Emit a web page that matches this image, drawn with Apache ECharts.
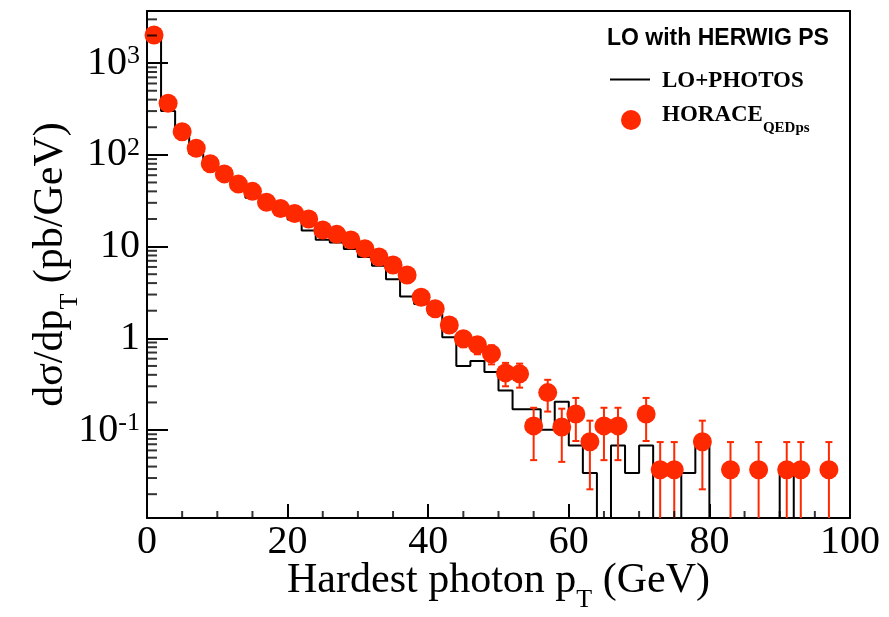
<!DOCTYPE html>
<html>
<head>
<meta charset="utf-8">
<script src="https://cdn.jsdelivr.net/npm/echarts@6/dist/echarts.min.js"></script>
<style>
  html, body { margin: 0; padding: 0; background: #fff; }
  #wrap { position: relative; width: 889px; height: 617px; }
  #chart, #ticks { position: absolute; left: 0; top: 0; width: 889px; height: 617px; }
  #ticks { pointer-events: none; }
</style>
</head>
<body>
<div id="wrap">
  <div id="chart"></div>
  <div id="ticks"></div>
</div>
<script>
// ---- data ----
const histEdges = [0,2,4,6,8,10,12,14,16,18,20,22,24,26,28,30,32,34,36,38,40,42,44,46,48,50,
  52,54,56,58,60,62,64,66,68,70,72,74,76,78,80,82,84,86,88,90,92,94,96,98,100];
const histValues = [1990, 300, 163, 103, 74.5, 57, 43, 34, 29.2, 23.8,
  19.8, 15.0, 11.9, 11.1, 9.4, 7.7, 6.2, 4.4, 2.85, 2.37,
  1.85, 1.03, 0.50, 0.565, 0.43, 0.27, 0.169, 0.169, 0.101, 0.203,
  0.068, 0.034, 0, 0.068, 0.034, 0.068, 0, 0, 0.034, 0.068,
  0, 0, 0, 0, 0, 0.034, 0, 0, 0, 0];

const pointX = [1,3,5,7,9,11,13,15,17,19,21,23,25,27,29,31,33,35,37,39,
  41,43,45,47,49,51,53,55,57,59,61,63,65,67,71,73,75,79,83,87,91,93,97];
const pointY = [2030, 366, 179, 118, 80, 62, 48, 40, 30.5, 26,
  23, 20, 15.2, 13.6, 11.8, 9.5, 7.7, 6.3, 4.9, 2.8,
  2.1, 1.4, 0.99, 0.85, 0.68, 0.42, 0.41, 0.111, 0.256, 0.108,
  0.15, 0.0746, 0.111, 0.111, 0.15, 0.037, 0.037, 0.0746, 0.037, 0.037, 0.037, 0.037, 0.037];
const pointErr = [8.7, 3.7, 2.6, 2.1, 1.7, 1.5, 1.3, 1.2, 1.06, 0.98,
  0.92, 0.86, 0.75, 0.71, 0.66, 0.59, 0.53, 0.48, 0.43, 0.32,
  0.28, 0.23, 0.19, 0.18, 0.16, 0.12, 0.12, 0.064, 0.097, 0.063,
  0.074, 0.052, 0.064, 0.064, 0.074, 0.037, 0.037, 0.052, 0.037, 0.037, 0.037, 0.037, 0.037];

const xTickValues = [0, 20, 40, 60, 80, 100];
const xTickLabels = ['0', '20', '40', '60', '80', '100'];
const xMinorTicks = [5, 10, 15, 25, 30, 35, 45, 50, 55, 65, 70, 75, 85, 90, 95];
const yTickValues = [0.1, 1, 10, 100, 1000];
const yTickLabels = ['10{sup|-1}', '1', '10', '10{sup|2}', '10{sup|3}'];
const yMinorTicks = [0.02,0.03,0.04,0.05,0.06,0.07,0.08,0.09,
  0.2,0.3,0.4,0.5,0.6,0.7,0.8,0.9, 2,3,4,5,6,7,8,9,
  20,30,40,50,60,70,80,90, 200,300,400,500,600,700,800,900, 2000,3000];

const seriesHistName = 'LO+PHOTOS';
const seriesPtsName = 'HORACE';
const titleText = 'LO with HERWIG PS';

// ---- build ----
const SERIF = '"Liberation Serif", "Times New Roman", serif';
const SANS = '"Liberation Sans", Arial, sans-serif';
const RED = '#ff2900';
const Y_MIN = 0.011, Y_MAX = 3700;
const X_MIN = 0, X_MAX = 100;
const FLOOR = Y_MIN / 100; // empty bins are drawn below the visible range
const GRID = { left: 147, right: 39, top: 11, bottom: 99, outerBoundsMode: 'none' };

const histData = [];
for (let i = 0; i < histValues.length; i++) {
  const v = histValues[i] > 0 ? histValues[i] : FLOOR;
  histData.push([histEdges[i], v]);
}
histData.push([histEdges[histEdges.length - 1], histValues[histValues.length - 1] > 0 ? histValues[histValues.length - 1] : FLOOR]);

const ptsData = pointX.map((x, i) => [x, pointY[i]]);
const errData = pointX.map((x, i) => [x, pointY[i], pointErr[i]]);

const frameLine = { show: true, onZero: false, lineStyle: { color: '#000', width: 2 } };

// ---- main chart ----
const chart = echarts.init(document.getElementById('chart'), null, { renderer: 'canvas' });
chart.setOption({
  animation: false,
  title: {
    text: titleText,
    left: 607, top: 27,
    padding: 0,
    textStyle: { fontFamily: SANS, fontSize: 23, fontWeight: 'bold', color: '#000', lineHeight: 23 }
  },
  legend: [
    {
      data: [{ name: seriesHistName, icon: 'rect' }],
      orient: 'vertical', left: 610, top: 66, padding: 0,
      itemWidth: 40, itemHeight: 2,
      itemStyle: { color: '#000' },
      formatter: '{a|{name}}',
      textStyle: {
        rich: { a: { fontFamily: SERIF, fontSize: 23, fontWeight: 'bold', color: '#000', lineHeight: 23, padding: [4, 0, 0, 7] } }
      }
    },
    {
      data: [seriesPtsName],
      orient: 'vertical', left: 621, top: 104, padding: 0,
      itemWidth: 20, itemHeight: 20,
      formatter: '{a|HORACE}{b|QEDps}',
      textStyle: {
        rich: {
          a: { fontFamily: SERIF, fontSize: 23, fontWeight: 'bold', color: '#000', lineHeight: 23, padding: [0, 0, 20, 16], verticalAlign: 'top' },
          b: { fontFamily: SERIF, fontSize: 15, fontWeight: 'bold', color: '#000', lineHeight: 32, verticalAlign: 'bottom' }
        }
      }
    }
  ],
  grid: GRID,
  xAxis: [
    {
      type: 'value', min: X_MIN, max: X_MAX, interval: 20,
      name: 'Hardest photon p{sub|T} (GeV)',
      nameLocation: 'middle', nameGap: 63, nameMoveOverlap: false,
      nameTextStyle: {
        verticalAlign: 'middle',
        fontFamily: SERIF, fontSize: 42, color: '#000',
        rich: {
          sub: { fontFamily: SERIF, fontSize: 26, color: '#000', lineHeight: 26, padding: [38, 0, 0, 0] }
        }
      },
      axisLine: { show: true, onZero: false, lineStyle: { color: '#000', width: 2 } },
      axisTick: { show: false },
      splitLine: { show: false },
      axisLabel: {
        margin: 4,
        fontFamily: SERIF, fontSize: 40, color: '#000',
        formatter: (v) => { const i = xTickValues.indexOf(Math.round(v)); return i >= 0 ? xTickLabels[i] : ''; }
      }
    },
    {
      type: 'value', min: X_MIN, max: X_MAX, position: 'top',
      axisLine: frameLine,
      axisTick: { show: false }, axisLabel: { show: false }, splitLine: { show: false }
    }
  ],
  yAxis: [
    {
      type: 'log', logBase: 10, min: Y_MIN, max: Y_MAX,
      name: 'dσ/dp{sub|T} (pb/GeV)',
      nameLocation: 'middle', nameGap: 96, nameRotate: 90, nameMoveOverlap: false,
      nameTextStyle: {
        verticalAlign: 'middle',
        fontFamily: SERIF, fontSize: 42, color: '#000',
        rich: {
          sub: { fontFamily: SERIF, fontSize: 26, color: '#000', lineHeight: 26, padding: [38, 0, 0, 0] }
        }
      },
      axisLine: { show: true, onZero: false, lineStyle: { color: '#000', width: 2 } },
      axisTick: { show: false },
      splitLine: { show: false },
      axisLabel: {
        margin: 7, showMinLabel: false, showMaxLabel: false,
        fontFamily: SERIF, fontSize: 40, color: '#000',
        rich: {
          sup: { fontFamily: SERIF, fontSize: 26, color: '#000', lineHeight: 26, verticalAlign: 'top' }
        },
        formatter: (v) => {
          const i = yTickValues.findIndex(t => Math.abs(Math.log10(t) - Math.log10(v)) < 1e-6);
          return i >= 0 ? yTickLabels[i] : '';
        }
      }
    },
    {
      type: 'log', logBase: 10, min: Y_MIN, max: Y_MAX, position: 'right',
      axisLine: frameLine,
      axisTick: { show: false }, axisLabel: { show: false }, splitLine: { show: false }
    }
  ],
  series: [
    {
      name: seriesHistName,
      type: 'line',
      step: 'end',
      data: histData,
      symbol: 'none',
      showSymbol: false,
      clip: true,
      lineStyle: { color: '#000', width: 2 },
      itemStyle: { color: '#000' },
      z: 3
    },
    {
      name: 'errors',
      type: 'custom',
      silent: true,
      data: errData,
      renderItem: (params, api) => {
        const x = api.value(0), v = api.value(1), e = api.value(2);
        const cs = params.coordSys;
        const bottom = cs.y + cs.height;
        const top = api.coord([x, v + e]);
        const lo = v - e;
        let yLow = bottom, lowCap = false;
        if (lo > 0) {
          const pl = api.coord([x, lo])[1];
          if (pl < bottom) { yLow = pl; lowCap = true; }
        }
        const children = [
          { type: 'line', shape: { x1: top[0], y1: top[1], x2: top[0], y2: yLow }, style: { stroke: RED, lineWidth: 2 } },
          { type: 'line', shape: { x1: top[0] - 3.5, y1: top[1], x2: top[0] + 3.5, y2: top[1] }, style: { stroke: RED, lineWidth: 2 } }
        ];
        if (lowCap) {
          children.push({ type: 'line', shape: { x1: top[0] - 3.5, y1: yLow, x2: top[0] + 3.5, y2: yLow }, style: { stroke: RED, lineWidth: 2 } });
        }
        return { type: 'group', children };
      },
      z: 4
    },
    {
      name: seriesPtsName,
      type: 'scatter',
      data: ptsData,
      symbol: 'circle',
      symbolSize: 19,
      itemStyle: { color: RED, opacity: 1 },
      z: 5
    }
  ]
});

// ---- tick overlay: same grid and axes, only the inward tick marks ----
const tickChart = echarts.init(document.getElementById('ticks'), null, { renderer: 'canvas' });
tickChart.setOption({
  animation: false,
  grid: GRID,
  xAxis: {
    type: 'value', min: X_MIN, max: X_MAX, interval: 20,
    axisLine: { show: false, onZero: false },
    axisTick: { show: true, inside: true, length: 14, lineStyle: { color: '#000', width: 2 } },
    axisLabel: { show: false },
    splitLine: { show: false }
  },
  yAxis: {
    type: 'log', logBase: 10, min: Y_MIN, max: Y_MAX,
    axisLine: { show: false, onZero: false },
    axisTick: { show: true, inside: true, length: 21, lineStyle: { color: '#000', width: 2 } },
    axisLabel: { show: false },
    splitLine: { show: false }
  },
  series: [
    {
      name: 'yMinor', type: 'scatter', clip: false, silent: true,
      data: yMinorTicks.map(v => [X_MIN, v]),
      symbol: 'rect', symbolSize: [10, 2], symbolOffset: [5, 0],
      itemStyle: { color: '#000' }
    },
    {
      name: 'xMinor', type: 'scatter', clip: false, silent: true,
      data: xMinorTicks.map(v => [v, Y_MIN]),
      symbol: 'rect', symbolSize: [2, 7], symbolOffset: [0, -3.5],
      itemStyle: { color: '#000' }
    }
  ]
});
</script>
</body>
</html>
